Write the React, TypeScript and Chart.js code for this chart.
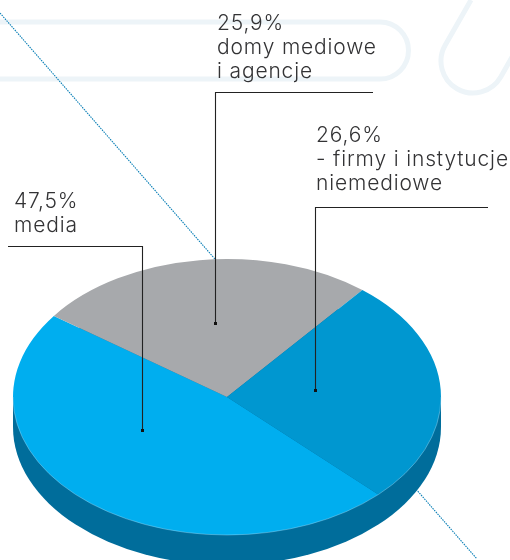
import React, { useEffect, useRef } from "react";
import { Chart, registerables } from "chart.js";

Chart.register(...registerables);

const categories = ["media", "domy mediowe i agencje", "firmy i instytucje niemediowe"];
const shareValues = [47.5, 25.9, 26.6];
const sliceColors = ["#00aeef", "#a7a9ac", "#0097d0"];
const calloutTexts = [["media"], ["domy mediowe", "i agencje"], ["- firmy i instytucje", "niemediowe"]];

const WALL = "#006d9b";
const SQUASH = 138 / 214;
const DEPTH = 30;
const FONT = "300 21px Inter, 'Noto Sans', sans-serif";

const callouts = [
  { tx: 14, ty: 208, path: [[8, 246], [142, 246], [142, 430]] },
  { tx: 217, ty: 30, path: [[373, 92], [215, 92], [215, 323]] },
  { tx: 316, ty: 142, path: [[488, 207], [315, 207], [315, 390]] },
];

const pct = (v: number) => v.toFixed(1).replace(".", ",") + "%";

const pseudo3d = {
  id: "pseudo3d",
  beforeDatasetsDraw(chart: any) {
    const ctx = chart.ctx;
    const arc = chart.getDatasetMeta(0).data[0];
    const { x: cx, y: cy, outerRadius: r } = arc;

    // faint background outlines
    ctx.save();
    ctx.strokeStyle = "#edf4f8";
    ctx.lineWidth = 5;
    ctx.beginPath();
    ctx.moveTo(0, 22);
    ctx.lineTo(380, 22);
    ctx.arc(380, 50.5, 28.5, -Math.PI / 2, Math.PI / 2);
    ctx.lineTo(0, 79);
    ctx.stroke();
    ctx.beginPath();
    ctx.moveTo(471, 0);
    ctx.arc(473, 61, 32, (210 * Math.PI) / 180, (30 * Math.PI) / 180, true);
    ctx.lineTo(516, 50);
    ctx.stroke();

    // dotted diagonal
    ctx.strokeStyle = "#0a7fb6";
    ctx.lineWidth = 1.1;
    ctx.setLineDash([1.5, 1]);
    ctx.beginPath();
    ctx.moveTo(0, 13);
    ctx.lineTo(477, 559);
    ctx.stroke();
    ctx.setLineDash([]);

    // side wall of the disc
    ctx.fillStyle = WALL;
    ctx.beginPath();
    ctx.ellipse(cx, cy + DEPTH, r, r * SQUASH, 0, 0, Math.PI * 2);
    ctx.fill();
    ctx.fillRect(cx - r, cy, r * 2, DEPTH);
    ctx.restore();

    // squash the pie into an ellipse
    ctx.save();
    ctx.translate(cx, cy);
    ctx.scale(1, SQUASH);
    ctx.translate(-cx, -cy);
  },
  afterDatasetsDraw(chart: any) {
    const ctx = chart.ctx;
    ctx.restore();
    const arc = chart.getDatasetMeta(0).data[0];

    ctx.save();
    // light hairline where the top face meets the wall
    ctx.strokeStyle = "rgba(190,230,248,0.45)";
    ctx.lineWidth = 0.8;
    ctx.beginPath();
    ctx.ellipse(arc.x, arc.y, arc.outerRadius, arc.outerRadius * SQUASH, 0, 0, Math.PI);
    ctx.stroke();

    callouts.forEach((c, i) => {
      ctx.strokeStyle = "#222222";
      ctx.lineWidth = 1.1;
      ctx.beginPath();
      c.path.forEach(([x, y], k) => {
        if (k === 0) ctx.moveTo(x, y + 0.5);
        else ctx.lineTo(x + 0.5, y + 0.5);
      });
      ctx.stroke();
      const end = c.path[c.path.length - 1];
      ctx.fillStyle = "#111111";
      ctx.fillRect(end[0] - 1, end[1] - 1, 3, 3);

      ctx.fillStyle = "#333335";
      ctx.font = FONT;
      ctx.textBaseline = "alphabetic";
      ctx.textAlign = "left";
      (ctx as any).letterSpacing = "0.85px";
      const lines = [pct(shareValues[i]), ...calloutTexts[i]];
      lines.forEach((t, k) => ctx.fillText(t, c.tx, c.ty + k * 24));
    });
    ctx.restore();
  },
};

export default function App() {
  const ref = useRef<HTMLCanvasElement>(null);
  useEffect(() => {
    const chart = new Chart(ref.current!, {
      type: "pie",
      data: {
        labels: categories,
        datasets: [
          {
            data: shareValues,
            backgroundColor: sliceColors,
            borderWidth: 0,
            radius: 214,
            clip: false,
          } as any,
        ],
      },
      options: {
        animation: false,
        responsive: false,
        rotation: 135,
        layout: { padding: { left: 0, right: 56, top: 234, bottom: 0 } },
        plugins: { legend: { display: false }, tooltip: { enabled: false }, title: { display: false } },
      },
      plugins: [pseudo3d],
    });
    return () => chart.destroy();
  }, []);
  return (
    <div style={{ position: "absolute", left: 0, top: 0, width: 510, height: 560, overflow: "hidden", background: "#fff" }}>
      <canvas ref={ref} width={510} height={560} style={{ display: "block" }} />
    </div>
  );
}
